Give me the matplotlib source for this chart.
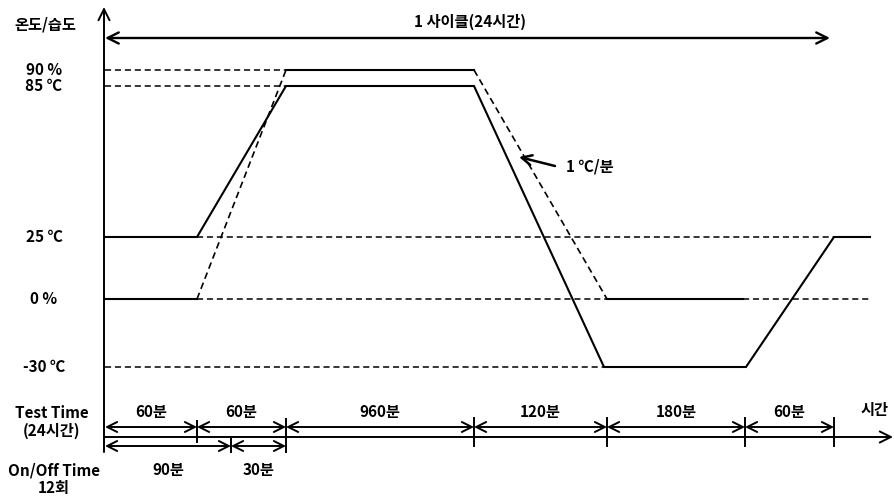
import matplotlib.pyplot as plt

plt.rcParams['font.family'] = ['Noto Sans CJK KR', 'DejaVu Sans']

# diagram is schematic (not to scale), so positions are in picture units
bounds = [105, 197, 286, 474, 607, 745, 834]   # phase changes along the time axis
line_end = 870
axis_end = 893

level_names = ['90 %', '85 ℃', '25 ℃', '0 %', '-30 ℃']
level_pos = [70, 86, 237, 299, 367]

# temperature profile (solid)
temp_x = [105, 197, 286, 474, 604, 746, 834, 870]
temp_y = [237, 237, 86, 86, 367, 367, 237, 237]

# humidity profile: flat parts solid, ramps dashed
hum_x = [105, 197, 286, 474, 607, 743]
hum_y = [299, 299, 70, 70, 299, 299]
hum_style = ['-', '--', '-', '--', '-']

# dashed guide lines (level, x from, x to)
guide_lv = [70, 86, 237, 299, 299, 367]
guide_x0 = [105, 105, 197, 197, 743, 105]
guide_x1 = [286, 286, 834, 607, 872, 604]

test_labels = ['60분', '60분', '960분', '120분', '180분', '60분']
onoff_bounds = [105, 231, 286]
onoff_labels = ['90분', '30분']

dash = (0, (4, 2.5))
fs = 11

fig = plt.figure(figsize=(8.95, 5), dpi=100)
ax = fig.add_axes([0, 0, 1, 1])
ax.set_xlim(0, 895)
ax.set_ylim(500, 0)
ax.axis('off')

# guide lines
for lv, a, b in zip(guide_lv, guide_x0, guide_x1):
    ax.plot([a, b], [lv, lv], color='black', lw=1.1, ls=dash)

# temperature
ax.plot(temp_x, temp_y, color='black', lw=1.5, solid_joinstyle='miter')

# humidity
for i, st in enumerate(hum_style):
    ax.plot(hum_x[i:i + 2], hum_y[i:i + 2], color='black',
            lw=1.5 if st == '-' else 1.2, ls='-' if st == '-' else dash)

# axes with arrows
ax.annotate('', xy=(104, 7), xytext=(104, 452),
            arrowprops=dict(arrowstyle='->', lw=1.4, shrinkA=0, shrinkB=0, mutation_scale=20))
ax.annotate('', xy=(axis_end, 437), xytext=(105, 437),
            arrowprops=dict(arrowstyle='->', lw=1.4, shrinkA=0, shrinkB=0, mutation_scale=20))

# 1 cycle arrow
ax.annotate('', xy=(830, 38), xytext=(105, 38),
            arrowprops=dict(arrowstyle='<->', lw=1.7, shrinkA=0, shrinkB=0, mutation_scale=20))
ax.text(470, 22, '1 사이클(24시간)', ha='center', va='center', fontsize=fs, fontweight='bold')

# axis labels
ax.text(45, 24, '온도/습도', ha='center', va='center', fontsize=fs, fontweight='bold')
for name, y in zip(level_names, level_pos):
    ax.text(44, y, name, ha='center', va='center', fontsize=fs, fontweight='bold')

# slope note
ax.annotate('', xy=(519, 157), xytext=(555, 166),
            arrowprops=dict(arrowstyle='->', lw=1.8, shrinkA=0, shrinkB=0, mutation_scale=18))
ax.text(566, 166, '1 ℃/분', ha='left', va='center', fontsize=fs, fontweight='bold')

# test time row
for i, lab in enumerate(test_labels):
    a, b = bounds[i], bounds[i + 1]
    ax.annotate('', xy=(b, 427), xytext=(a, 427),
                arrowprops=dict(arrowstyle='<->', lw=1.4, shrinkA=0, shrinkB=0, mutation_scale=18))
    ax.text((a + b) / 2, 412, lab, ha='center', va='center', fontsize=fs, fontweight='bold')
ax.text(line_end + 5, 410, '시간', ha='center', va='center', fontsize=fs, fontweight='bold')

# on/off row
for i, lab in enumerate(onoff_labels):
    a, b = onoff_bounds[i], onoff_bounds[i + 1]
    ax.annotate('', xy=(b, 446), xytext=(a, 446),
                arrowprops=dict(arrowstyle='<->', lw=1.4, shrinkA=0, shrinkB=0, mutation_scale=18))
    ax.text((a + b) / 2, 470, lab, ha='center', va='center', fontsize=fs, fontweight='bold')

# tick marks on the time axis
ax.plot([bounds[1]] * 2, [421, 442], color='black', lw=1.4)
ax.plot([onoff_bounds[1]] * 2, [437, 452], color='black', lw=1.4)
ax.plot([bounds[2]] * 2, [419, 452], color='black', lw=1.4)
for x in bounds[3:]:
    ax.plot([x, x], [418, 446], color='black', lw=1.4)

ax.text(52, 422, 'Test Time\n(24시간)', ha='center', va='center', fontsize=fs,
        fontweight='bold', linespacing=1.1)
ax.text(54, 479, 'On/Off Time\n12회', ha='center', va='center', fontsize=fs,
        fontweight='bold', linespacing=1.1)

fig.savefig('out.png', dpi=100)
